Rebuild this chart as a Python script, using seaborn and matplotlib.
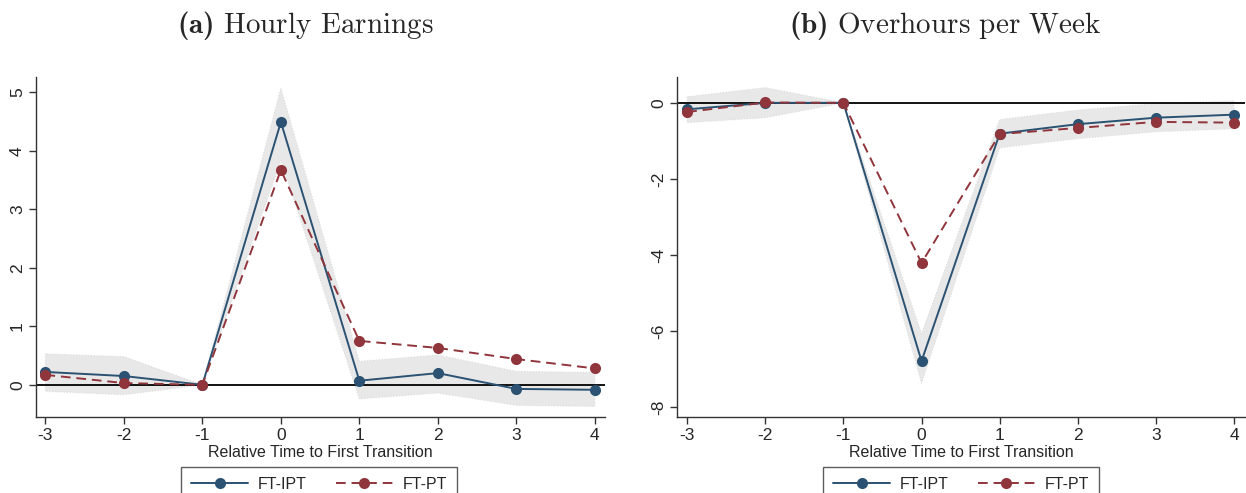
import numpy as np
import pandas as pd
import matplotlib
matplotlib.use("Agg")
import matplotlib.pyplot as plt
import seaborn as sns
from matplotlib.lines import Line2D

sns.set_style("white")
plt.rcParams['font.family'] = ['Liberation Sans', 'DejaVu Sans']
plt.rcParams['mathtext.fontset'] = 'custom'
plt.rcParams['mathtext.rm'] = 'cmr10'
plt.rcParams['mathtext.bf'] = 'cmb10'

periods = [-3, -2, -1, 0, 1, 2, 3, 4]

# (a) Hourly Earnings
earn_ipt = [0.22, 0.15, 0.0, 4.49, 0.07, 0.20, -0.07, -0.085]
earn_pt = [0.17, 0.03, 0.0, 3.67, 0.75, 0.63, 0.44, 0.28]
earn_lo = [-0.11, -0.17, 0.0, 3.84, -0.24, -0.14, -0.35, -0.37]
earn_hi = [0.53, 0.48, 0.0, 5.07, 0.40, 0.51, 0.23, 0.21]

# (b) Overhours per Week
over_ipt = [-0.17, 0.0, 0.0, -6.79, -0.81, -0.56, -0.39, -0.31]
over_pt = [-0.24, 0.01, 0.0, -4.21, -0.82, -0.66, -0.50, -0.52]
over_lo = [-0.52, -0.39, 0.0, -7.37, -1.18, -0.94, -0.76, -0.68]
over_hi = [0.16, 0.40, 0.0, -6.07, -0.44, -0.19, -0.02, 0.05]

titles = [r"$\mathbf{(a)}\ \mathrm{Hourly\ Earnings}$",
          r"$\mathbf{(b)}\ \mathrm{Overhours\ per\ Week}$"]
series_names = ["FT-IPT", "FT-PT"]
xlabel = "Relative Time to First Transition"

BLUE = "#2b5272"
RED = "#90353b"
BAND = "#e8e8e8"

fig = plt.figure(figsize=(12.46, 4.93), dpi=100)
ax1 = fig.add_axes([36/1246, 1-417/493, (605-36)/1246, (417-77)/493])
ax2 = fig.add_axes([677/1246, 1-417/493, (1245-677)/1246, (417-77)/493])

panels = [
    (ax1, earn_ipt, earn_pt, earn_lo, earn_hi, (-3.12, 4.13), (-0.55, 5.26), [0, 1, 2, 3, 4, 5]),
    (ax2, over_ipt, over_pt, over_lo, over_hi, (-3.13, 4.14), (-8.26, 0.68), [-8, -6, -4, -2, 0]),
]

for i, (ax, ipt, pt, lo, hi, xl, yl, yt) in enumerate(panels):
    df = pd.DataFrame({
        "t": periods * 2,
        "v": list(ipt) + list(pt),
        "s": [series_names[0]] * 8 + [series_names[1]] * 8,
    })
    ax.fill_between(periods, lo, hi, color=BAND, lw=0.8, edgecolor="#dcdcdc",
                    linestyle=":", zorder=1)
    ax.axhline(0, color="black", lw=1.3, zorder=2)
    sns.lineplot(data=df, x="t", y="v", hue="s", style="s",
                 palette={series_names[0]: BLUE, series_names[1]: RED},
                 dashes={series_names[0]: "", series_names[1]: (5, 3)},
                 markers={series_names[0]: "o", series_names[1]: "o"},
                 markersize=8, markeredgewidth=0, lw=1.4,
                 ax=ax, legend=False, zorder=3)
    ax.set_xlim(*xl)
    ax.set_ylim(*yl)
    ax.set_xticks(periods)
    ax.set_xticklabels([str(p) for p in periods], fontsize=12.5)
    ax.set_yticks(yt)
    ax.set_yticklabels([str(v) for v in yt], fontsize=12.5, rotation=90, va="center")
    ax.set_xlabel(xlabel, fontsize=11.5, labelpad=1.5)
    ax.set_ylabel("")
    for s in ["top", "right"]:
        ax.spines[s].set_visible(False)
    for s in ["left", "bottom"]:
        ax.spines[s].set_color("#333333")
        ax.spines[s].set_linewidth(1.0)
    ax.tick_params(axis="both", direction="out", length=5, width=1,
                   color="#333333", left=True, bottom=True, pad=3)
    ax.grid(False)

fig.text(305/1246, 1-26/493, titles[0], fontsize=21, ha="center", va="center")
fig.text(945/1246, 1-26/493, titles[1], fontsize=21, ha="center", va="center")

handles = [
    Line2D([], [], color=BLUE, lw=1.4, marker="o", markersize=8, markeredgewidth=0),
    Line2D([], [], color=RED, lw=1.4, ls=(0, (5, 3)), marker="o", markersize=8, markeredgewidth=0),
]
for cx in [319/1246, 961/1246]:
    leg = fig.legend(handles, series_names, loc="upper center", bbox_to_anchor=(cx, 1-467/493),
                     ncol=2, fontsize=11.5, frameon=True, fancybox=False, edgecolor="#333333",
                     handlelength=3.6, columnspacing=1.8, borderpad=0.6, handletextpad=0.6,
                     borderaxespad=0)
    leg.get_frame().set_linewidth(1.0)

fig.savefig("out.png", dpi=100)
